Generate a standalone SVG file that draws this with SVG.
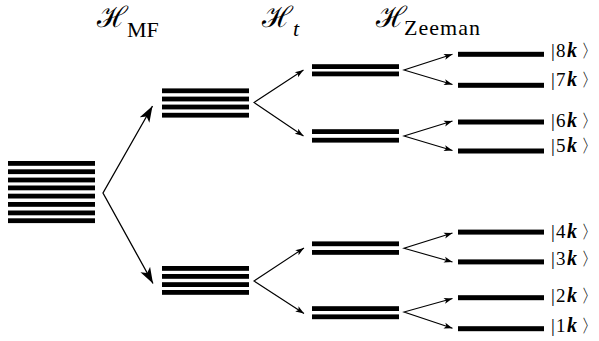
<svg xmlns="http://www.w3.org/2000/svg" width="599" height="341" viewBox="0 0 599 341">
<style>
.bar{fill:#000}
.c{stroke:#000;stroke-width:1.1;fill:none}
.cb{stroke:#000;stroke-width:1.3;fill:none}
.H{font-family:"DejaVu Serif",serif;font-size:29px}
.sub{font-family:"Liberation Serif","Times New Roman",serif;font-size:22px}
.lab{font-family:"Liberation Serif","Times New Roman",serif;font-size:19px;fill:#000}
.kk{font-family:"Liberation Serif","Times New Roman",serif;font-size:20px;font-weight:bold;font-style:italic}
.br{font-family:"DejaVu Sans",sans-serif;font-size:18px;fill:#000}
</style>
<defs>
<marker id="big" viewBox="-16 -6 17 12" refX="0" refY="0" markerWidth="17" markerHeight="12" markerUnits="userSpaceOnUse" orient="auto-start-reverse">
<path d="M0,0 L-16,-5.5 L-12,0 L-16,5.5 Z" fill="#000"/>
</marker>
<marker id="sm" viewBox="-9 -4 10 8" refX="0" refY="0" markerWidth="10" markerHeight="8" markerUnits="userSpaceOnUse" orient="auto-start-reverse">
<path d="M0,0 L-8.5,-3 L-6.5,0 L-8.5,3 Z" fill="#000"/>
</marker>
</defs>
<g id="titles">
<text class="H" x="97" y="27">ℋ</text><text class="sub" x="127" y="36.5">MF</text>
<text class="H" x="262" y="27">ℋ</text><text class="sub" x="293" y="36" font-style="italic">t</text>
<text class="H" x="376" y="27">ℋ</text><text class="sub" x="404" y="35" textLength="76">Zeeman</text>
</g>
<g id="level0">
<rect class="bar" x="8" y="161" width="87" height="4.8"/>
<rect class="bar" x="8" y="169.3" width="87" height="4.8"/>
<rect class="bar" x="8" y="177.6" width="87" height="4.8"/>
<rect class="bar" x="8" y="185.5" width="87" height="4.8"/>
<rect class="bar" x="8" y="193.7" width="87" height="4.8"/>
<rect class="bar" x="8" y="202" width="87" height="4.8"/>
<rect class="bar" x="8" y="210.5" width="87" height="4.8"/>
<rect class="bar" x="8" y="218.3" width="87" height="4.8"/>
</g>
<g id="mf-upper">
<rect class="bar" x="162" y="88.4" width="87" height="4.8"/>
<rect class="bar" x="162" y="96.6" width="87" height="4.8"/>
<rect class="bar" x="162" y="104.6" width="87" height="4.8"/>
<rect class="bar" x="162" y="112.8" width="87" height="4.8"/>
</g>
<g id="mf-lower">
<rect class="bar" x="162" y="266" width="87" height="4.8"/>
<rect class="bar" x="162" y="274" width="87" height="4.8"/>
<rect class="bar" x="162" y="282.2" width="87" height="4.8"/>
<rect class="bar" x="162" y="290" width="87" height="4.8"/>
</g>
<g id="t-1">
<rect class="bar" x="312" y="64.2" width="87" height="4.8"/>
<rect class="bar" x="312" y="71.5" width="87" height="4.8"/>
</g>
<g id="t-2">
<rect class="bar" x="312" y="129.2" width="87" height="4.8"/>
<rect class="bar" x="312" y="137.8" width="87" height="4.8"/>
</g>
<g id="t-3">
<rect class="bar" x="312" y="241.4" width="87" height="4.8"/>
<rect class="bar" x="312" y="250" width="87" height="4.8"/>
</g>
<g id="t-4">
<rect class="bar" x="312" y="306.2" width="87" height="4.8"/>
<rect class="bar" x="312" y="314.4" width="87" height="4.8"/>
</g>
<g id="z8"><rect class="bar" x="458" y="51.8" width="86" height="5"/>
<text class="lab" y="57"><tspan x="551">|</tspan><tspan x="556">8</tspan><tspan class="kk" x="567">k</tspan><tspan class="br" x="581">〉</tspan></text></g>
<g id="z7"><rect class="bar" x="458" y="82.8" width="86" height="5"/>
<text class="lab" y="85.5"><tspan x="551">|</tspan><tspan x="556">7</tspan><tspan class="kk" x="567">k</tspan><tspan class="br" x="581">〉</tspan></text></g>
<g id="z6"><rect class="bar" x="458" y="119.5" width="86" height="5"/>
<text class="lab" y="127"><tspan x="551">|</tspan><tspan x="556">6</tspan><tspan class="kk" x="567">k</tspan><tspan class="br" x="581">〉</tspan></text></g>
<g id="z5"><rect class="bar" x="458" y="148.5" width="86" height="5"/>
<text class="lab" y="152"><tspan x="551">|</tspan><tspan x="556">5</tspan><tspan class="kk" x="567">k</tspan><tspan class="br" x="581">〉</tspan></text></g>
<g id="z4"><rect class="bar" x="458" y="229.6" width="86" height="5"/>
<text class="lab" y="238"><tspan x="551">|</tspan><tspan x="556">4</tspan><tspan class="kk" x="567">k</tspan><tspan class="br" x="581">〉</tspan></text></g>
<g id="z3"><rect class="bar" x="458" y="259.4" width="86" height="5"/>
<text class="lab" y="265"><tspan x="551">|</tspan><tspan x="556">3</tspan><tspan class="kk" x="567">k</tspan><tspan class="br" x="581">〉</tspan></text></g>
<g id="z2"><rect class="bar" x="458" y="295.2" width="86" height="5"/>
<text class="lab" y="301.5"><tspan x="551">|</tspan><tspan x="556">2</tspan><tspan class="kk" x="567">k</tspan><tspan class="br" x="581">〉</tspan></text></g>
<g id="z1"><rect class="bar" x="458" y="326.2" width="86" height="5"/>
<text class="lab" y="331.5"><tspan x="551">|</tspan><tspan x="556">1</tspan><tspan class="kk" x="567">k</tspan><tspan class="br" x="581">〉</tspan></text></g>
<g id="connectors">
<path class="cb" d="M152.5,106 L103,193 L153,283.5" marker-start="url(#big)" marker-end="url(#big)"/>
<path class="c" d="M303.5,70 L254,102.5 L303.5,136" marker-start="url(#sm)" marker-end="url(#sm)"/>
<path class="c" d="M304,248 L254,281 L304,313.5" marker-start="url(#sm)" marker-end="url(#sm)"/>
<path class="c" d="M452.5,54.3 L404,70 L452.5,84.5" marker-start="url(#sm)" marker-end="url(#sm)"/>
<path class="c" d="M452.5,121 L404,136 L452.5,150.5" marker-start="url(#sm)" marker-end="url(#sm)"/>
<path class="c" d="M452.5,233 L404,248.3 L452.5,262" marker-start="url(#sm)" marker-end="url(#sm)"/>
<path class="c" d="M452.5,298.5 L404,312 L452.5,328.3" marker-start="url(#sm)" marker-end="url(#sm)"/>
</g>
</svg>
